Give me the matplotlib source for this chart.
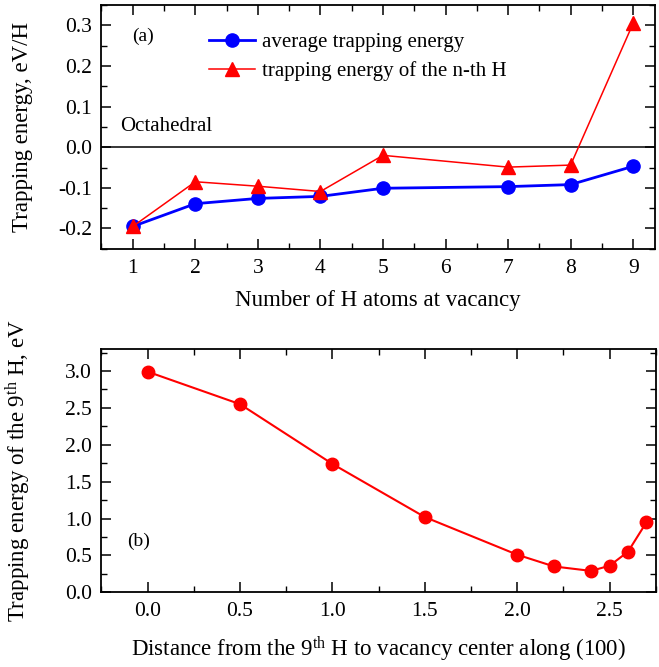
import matplotlib
matplotlib.use("Agg")
import matplotlib.pyplot as plt
from matplotlib.ticker import MultipleLocator

plt.rcParams['font.family'] = ['Liberation Serif', 'DejaVu Serif']
plt.rcParams['mathtext.fontset'] = 'custom'
plt.rcParams['mathtext.rm'] = 'Liberation Serif'
plt.rcParams['mathtext.it'] = 'Liberation Serif:italic'

# panel (a): trapping energy vs number of H atoms
n_h = [1, 2, 3, 4, 5, 7, 8, 9]
avg_energy = [-0.195, -0.139, -0.126, -0.121, -0.101, -0.097, -0.092, -0.047]
nth_energy = [-0.195, -0.085, -0.096, -0.109, -0.020, -0.049, -0.044, 0.305]

# panel (b): trapping energy of the 9th H vs distance
distance = [0.0, 0.5, 1.0, 1.5, 2.0, 2.2, 2.4, 2.5, 2.6, 2.7]
energy_9th = [2.99, 2.55, 1.74, 1.02, 0.51, 0.35, 0.29, 0.36, 0.55, 0.95]


def style_axis(ax):
    ax.tick_params(which='both', direction='in', top=True, right=True, labelsize=15.5)
    ax.tick_params(which='major', length=7, width=1.1, pad=7)
    ax.tick_params(which='minor', length=4, width=1.0)
    for s in ax.spines.values():
        s.set_linewidth(1.3)


fig = plt.figure(figsize=(6.59, 6.67), dpi=100)

# (a)
ax1 = fig.add_axes([0.154, 0.627, 0.840, 0.3655])
ax1.axhline(0, color='black', lw=1.1)
ax1.plot(n_h, avg_energy, color='blue', lw=2, marker='o', ms=9.5,
         label='average trapping energy')
ax1.plot(n_h, nth_energy, color='red', lw=1.1, marker='^', ms=9.5,
         label='trapping energy of the n-th H')
ax1.set_xlim(0.5, 9.35)
ax1.set_ylim(-0.25, 0.35)
ax1.xaxis.set_major_locator(MultipleLocator(1))
ax1.xaxis.set_minor_locator(MultipleLocator(0.5))
ax1.yaxis.set_minor_locator(MultipleLocator(0.05))
ax1.set_yticks([-0.2, -0.1, 0.0, 0.1, 0.2, 0.3])
ax1.set_yticklabels(['-0.2', '-0.1', '0.0', '0.1', '0.2', '0.3'])
style_axis(ax1)
ax1.set_xlabel('Number of H atoms at vacancy', fontsize=16.5, labelpad=9)
ax1.set_ylabel('Trapping energy, eV/H', fontsize=16.5)
ax1.yaxis.set_label_coords(-0.124, 0.5)
ax1.text(0.055, 0.873, '(a)', transform=ax1.transAxes, fontsize=14, va='center')
ax1.text(0.033, 0.50, 'Octahedral', transform=ax1.transAxes, fontsize=15, va='center')
ax1.legend(loc='upper left', bbox_to_anchor=(0.16, 0.965), frameon=False,
           fontsize=15, handlelength=2.2, handletextpad=0.35, labelspacing=0.45)

# (b)
ax2 = fig.add_axes([0.154, 0.112, 0.841, 0.365])
ax2.plot(distance, energy_9th, color='red', lw=1.5, marker='o', ms=9)
ax2.set_xlim(-0.25, 2.75)
ax2.set_ylim(0, 3.3)
ax2.xaxis.set_major_locator(MultipleLocator(0.5))
ax2.xaxis.set_minor_locator(MultipleLocator(0.25))
ax2.yaxis.set_major_locator(MultipleLocator(0.5))
ax2.yaxis.set_minor_locator(MultipleLocator(0.25))
ax2.xaxis.set_major_formatter(plt.FormatStrFormatter('%.1f'))
ax2.yaxis.set_major_formatter(plt.FormatStrFormatter('%.1f'))
style_axis(ax2)
ax2.set_xlabel(r'Distance from the 9$^{\rm th}$ H to vacancy center along (100)',
               fontsize=16.5, labelpad=10)
ax2.set_ylabel(r'Trapping energy of the 9$^{\rm th}$ H, eV', fontsize=16.5)
ax2.yaxis.set_label_coords(-0.124, 0.5)
ax2.text(0.047, 0.21, '(b)', transform=ax2.transAxes, fontsize=14, va='center')

fig.savefig('out.png', dpi=100)
